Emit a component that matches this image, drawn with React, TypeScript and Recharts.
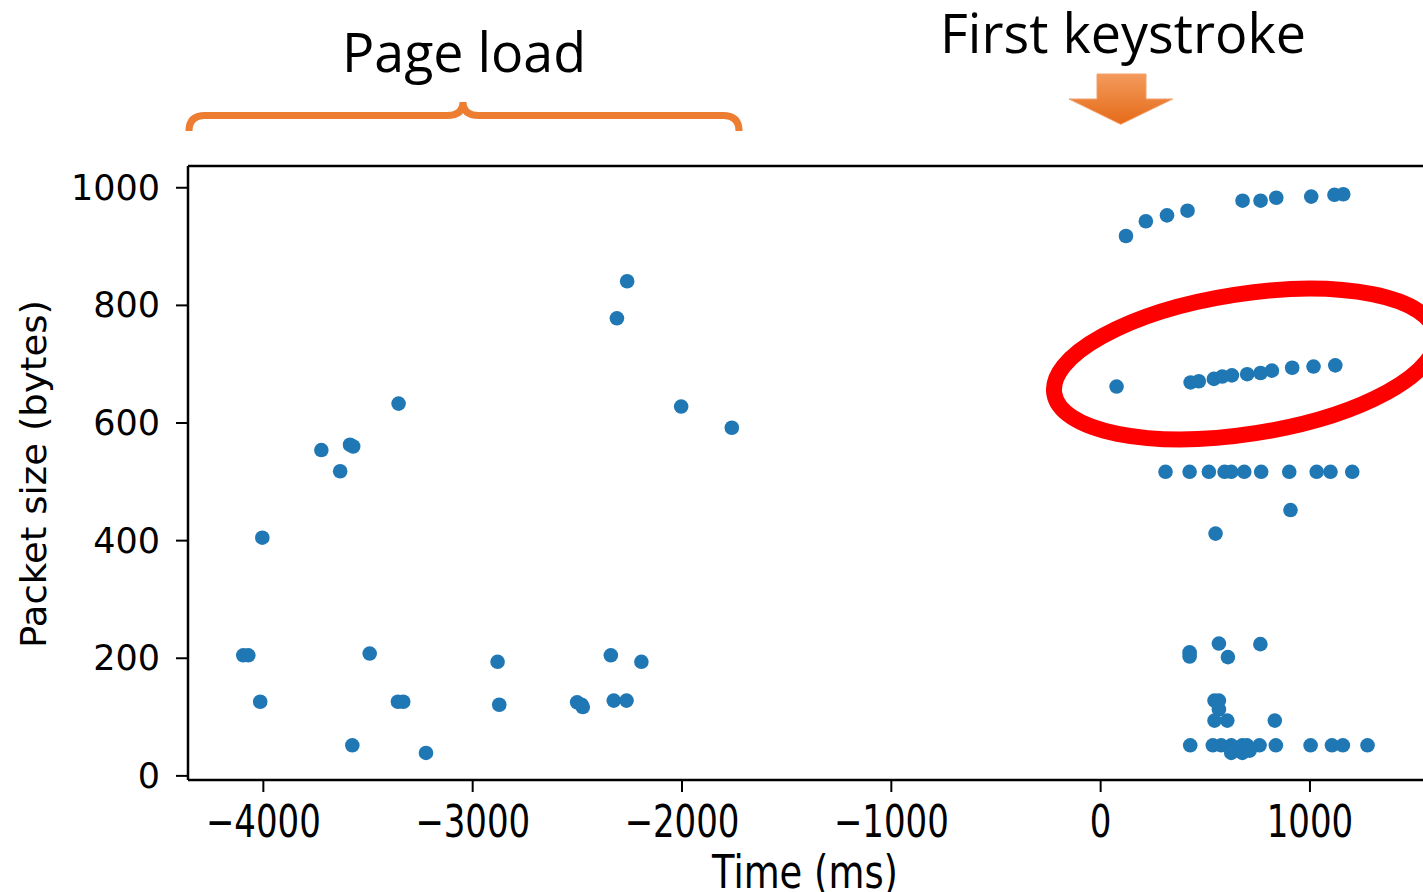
import { ScatterChart, Scatter, XAxis, YAxis, ReferenceLine } from 'recharts';

// Page load packets (time relative to first keystroke, ms / size in bytes)
const pageLoadTime = [
  -2262, -2311, -3354, -3723, -3586, -3571, -3633, -4005, -2004, -1762,
  -4096, -4072, -4015, -3492, -3575, -3357, -3332, -3223, -2881, -2873,
  -2501, -2480, -2474, -2340, -2194, -2326, -2265,
];
const pageLoadSize = [
  841, 778, 633, 554, 563, 560, 518, 405, 628, 592,
  205, 205, 126, 208, 52, 126, 126, 39, 194, 121,
  125, 121, 117, 205, 194, 128, 128,
];

// Packets after the first keystroke
const keystrokeTime = [
  121, 216, 317, 415, 678, 764, 839, 1006, 1117, 1159,
  76, 430, 469, 541, 581, 627, 700, 764, 818, 915, 1017, 1121,
  310, 425, 517, 592, 624, 686, 767, 901, 1032, 1098, 1202,
  907, 549,
  425, 425, 565, 608, 763,
  544, 565, 565, 544, 605, 832,
  428, 536, 576, 624, 677, 699, 759, 837, 1003, 1105, 1157, 1275,
  624, 677, 712,
];
const keystrokeSize = [
  918, 943, 953, 961, 978, 978, 983, 985, 988, 989,
  662, 669, 671, 675, 679, 681, 683, 685, 689, 694, 696, 698,
  517, 517, 517, 517, 517, 517, 517, 517, 517, 517, 517,
  452, 412,
  210, 203, 225, 202, 224,
  128, 128, 113, 94, 94, 94,
  52, 52, 52, 52, 52, 52, 52, 52, 52, 52, 52, 52,
  39, 39, 43,
];

const xTicks = [-4000, -3000, -2000, -1000, 0, 1000];
const yTicks = [0, 200, 400, 600, 800, 1000];
const yMax = 1037;

const data = [
  ...pageLoadTime.map((t, i) => ({ time: t, size: pageLoadSize[i] })),
  ...keystrokeTime.map((t, i) => ({ time: t, size: keystrokeSize[i] })),
];

const fmt = (v: number) => (v < 0 ? '\u2212' + Math.abs(v) : String(v));

const Dot = (props: any) => <circle cx={props.cx} cy={props.cy} r={7.3} fill="#1f77b4" />;

const YTick = ({ x, y, payload }: any) => (
  <text x={x - 14} y={y} textAnchor="end" dominantBaseline="central" fontFamily="DejaVu Sans" fontSize={35} fill="#000">
    {fmt(payload.value)}
  </text>
);

const XTick = ({ x, y, payload }: any) => (
  <text
    transform={`translate(${x},${y + 43}) scale(1,1.3)`}
    textAnchor="middle"
    fontFamily="DejaVu Sans"
    fontSize={34}
    fill="#000"
  >
    {fmt(payload.value)}
  </text>
);

export default function App() {
  return (
    <div style={{ position: 'relative', width: 1423, height: 892, overflow: 'hidden', background: '#fff' }}>
      <style>{'body{margin:0}'}</style>
      <ScatterChart width={1423} height={892} margin={{ top: 166, right: 0, bottom: 0, left: 0 }}>
        <XAxis
          type="number"
          dataKey="time"
          domain={[-4360, 1540]}
          ticks={xTicks}
          allowDataOverflow
          height={112}
          tickSize={12}
          tick={<XTick />}
          axisLine={{ stroke: '#000', strokeWidth: 2.5 }}
          tickLine={{ stroke: '#000', strokeWidth: 2 }}
        />
        <YAxis
          type="number"
          dataKey="size"
          domain={[-7, yMax]}
          ticks={yTicks}
          allowDataOverflow
          width={188}
          tickSize={12}
          tick={<YTick />}
          axisLine={{ stroke: '#000', strokeWidth: 2.5 }}
          tickLine={{ stroke: '#000', strokeWidth: 2 }}
        />
        {/* top spine */}
        <ReferenceLine y={yMax} stroke="#000" strokeWidth={2.5} />
        <Scatter data={data} shape={<Dot />} isAnimationActive={false} />
      </ScatterChart>

      <svg width={1423} height={892} style={{ position: 'absolute', left: 0, top: 0, pointerEvents: 'none' }}>
        <defs>
          <linearGradient id="arrowFill" x1="0" y1="0" x2="0" y2="1">
            <stop offset="0%" stopColor="#f39a5c" />
            <stop offset="100%" stopColor="#e56b18" />
          </linearGradient>
        </defs>

        {/* axis labels */}
        <text
          transform="translate(805,888) scale(1,1.3)"
          textAnchor="middle"
          fontFamily="DejaVu Sans"
          fontSize={36}
          textLength={186}
          lengthAdjust="spacingAndGlyphs"
        >
          Time (ms)
        </text>
        <text
          transform="translate(46,474) rotate(-90)"
          textAnchor="middle"
          fontFamily="DejaVu Sans"
          fontSize={36}
          textLength={348}
          lengthAdjust="spacingAndGlyphs"
        >
          Packet size (bytes)
        </text>

        {/* annotations */}
        <text x={464} y={72} textAnchor="middle" fontFamily="Open Sans" fontSize={55} textLength={244} lengthAdjust="spacingAndGlyphs">
          Page load
        </text>
        <path
          d="M189,131 Q189,115.5 205,115.5 L447,115.5 Q463,115.5 463,102 Q463,115.5 479,115.5 L723,115.5 Q739,115.5 739,131"
          fill="none"
          stroke="#ed7d31"
          strokeWidth={7}
        />
        <text x={1123} y={53} textAnchor="middle" fontFamily="Open Sans" fontSize={54} textLength={366} lengthAdjust="spacingAndGlyphs">
          First keystroke
        </text>
        <polygon
          points="1097,74 1146,74 1146,99 1172.7,99 1120.7,124.3 1069,99 1097,99"
          fill="url(#arrowFill)"
          stroke="#f2a06a"
          strokeWidth={1}
        />
        <ellipse
          cx={1245}
          cy={364}
          rx={193}
          ry={70}
          transform="rotate(-8.8 1245 364)"
          fill="none"
          stroke="#ff0000"
          strokeWidth={16}
        />
      </svg>
    </div>
  );
}
